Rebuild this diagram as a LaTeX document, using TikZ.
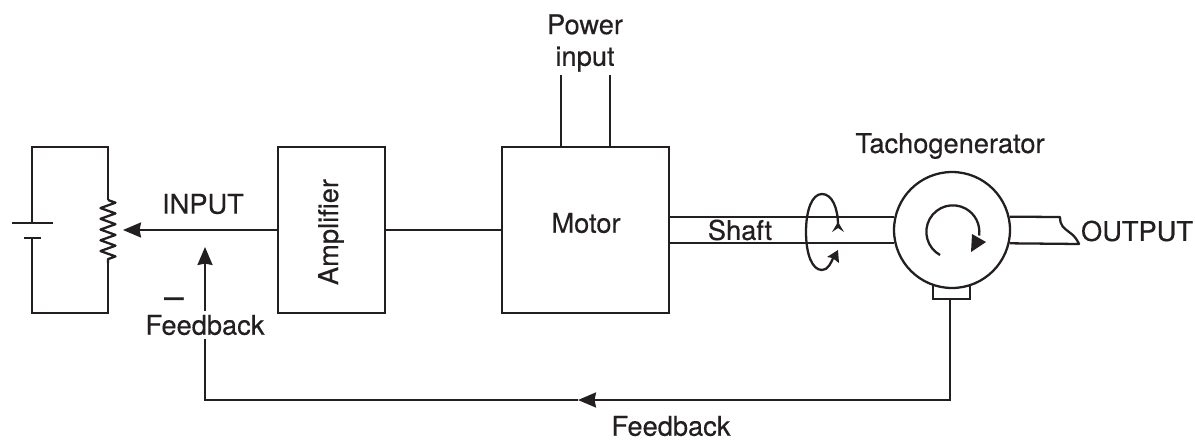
\documentclass[tikz,border=0pt]{standalone}
\usepackage{fontspec}
\setmainfont{TeX Gyre Heros}[UprightFeatures={FakeBold=0.35}]
\usetikzlibrary{arrows.meta,decorations.pathmorphing}
\definecolor{inkblack}{HTML}{231F20}
\tikzset{
  wire/.style={color=inkblack,line width=1.3pt},
  flow/.style={wire,-{Stealth[length=0.36cm,width=0.3cm,inset=0.03cm]}},
  blockbox/.style={draw=inkblack,line width=1.3pt,rectangle,inner sep=0pt,minimum width=#1,minimum height=3.32cm},
  tiphead/.style={fill=inkblack,draw=none},
  lbl/.style={color=inkblack,font=\fontsize{15.5}{18}\selectfont,inner sep=3pt}
}

\begin{document}
\begin{tikzpicture} [x=0.02cm,y=0.02cm]
            \useasboundingbox (0,0) rectangle (1195,440);

            % blocks
            \node[blockbox=2.14cm] (amp) at (331.5,210) {};
            \node[blockbox=3.34cm] (motor) at (585.5,210) {};
            \node[wire,draw,rectangle,inner sep=0pt,minimum width=0.74cm,minimum height=0.28cm] (brush) at (951.5,148) {};
            \node[wire,draw,fill=white,circle,inner sep=0pt,minimum size=2.32cm] (tacho) at (952,210) {};

            % input circuit
            \coordinate (batlongl) at (12,217); \coordinate (batlongr) at (53,217); \coordinate (batshortl) at (24,202); \coordinate (batshortr) at (41,202);
            \coordinate (battop) at (32,217); \coordinate (batbot) at (32,202); \coordinate (loopnw) at (32,293); \coordinate (loopsw) at (32,127); \coordinate (loopne) at (108,293); \coordinate (loopse) at (108,127);
            \coordinate (restop) at (108,240); \coordinate (resbot) at (108,177); \coordinate (wiper) at (123,210);
            \draw[wire] (batlongl) -- (batlongr); \draw[wire] (batshortl) -- (batshortr);
            \draw[wire] (battop) -- (loopnw) -- (loopne) -- (restop); \draw[wire] (batbot) -- (loopsw) -- (loopse) -- (resbot);
            \draw[wire,line join=round,decorate,decoration={zigzag,segment length=0.215cm,amplitude=0.15cm}] (restop) -- (resbot);
            \draw[flow] (amp.west) -- (wiper);
            \draw[wire] (amp.east) -- (motor.west);

            % power input
            \coordinate (powera) at (561,365); \coordinate (powerb) at (610,365);
            \draw[wire] (powera) -- (powera |- motor.north); \draw[wire] (powerb) -- (powerb |- motor.north);

            % shaft
            \draw[wire] (motor.east |- tacho.167) -- (tacho.167); \draw[wire] (motor.east |- tacho.193) -- (tacho.193);
            \coordinate (breaktop) at (1060,223); \coordinate (breakbot) at (1079,196);
            \draw[wire,line join=round] (tacho.13) -- (breaktop) .. controls (1060,214) and (1064,212) .. (1069,208) .. controls (1075,204) and (1077,200) .. (breakbot) -- (tacho.-13);

            % rotation marks
            \draw[wire] (838,215) .. controls (838,232) and (832,246) .. (822,246) .. controls (812,246) and (806,230) .. (806,208) .. controls (806,186) and (812,170) .. (822,170) .. controls (828,170) and (831,177) .. (834,184);
            \fill[tiphead] (838,218) -- (844,208) -- (838,212) -- (832,208) -- cycle;
            \fill[tiphead] (838,190) -- (827,183) -- (832.5,182) -- (839,177) -- cycle;
            \draw[wire] (940,185) arc[start angle=241,end angle=-8,radius=26.5];
            \fill[tiphead] (972,206) -- (986,198) -- (971,188) -- cycle;

            % labels
            \node[lbl,align=center] (powerlbl) at (585,397) {Power\\input};
            \node[lbl] (tacholbl) at (950,294) {Tachogenerator};
            \node[lbl] (inputlbl) at (203,236) {INPUT};
            \node[lbl,rotate=90] (amplbl) at (331,208) {Amplifier};
            \node[lbl] (motorlbl) at (586,217) {Motor};
            \node[lbl] (shaftlbl) at (740,210) {Shaft};
            \node[lbl] (outputlbl) at (1137,209) {OUTPUT};
            \node[lbl,font=\fontsize{20}{20}\selectfont,inner sep=0pt,text height=5pt,text depth=0pt] (minuslbl) at (174,136) {--};
            \node[lbl,inner sep=2pt] (fbleft) at (205,115) {Feedback};
            \node[lbl,inner sep=0pt] (fbbottom) at (671,14) {Feedback};

            % feedback loop
            \coordinate (fbstart) at (950,141); \coordinate (fbmid) at (578,40); \coordinate (fbcorner) at (205,40); \coordinate (fbtip) at (205,193);
            \draw[flow] (fbstart) |- (fbmid);
            \draw[wire] (fbmid) -- (fbcorner) -- (fbleft.south);
            \draw[flow] (fbleft.north) -- (fbtip);
\end{tikzpicture}
\end{document}
